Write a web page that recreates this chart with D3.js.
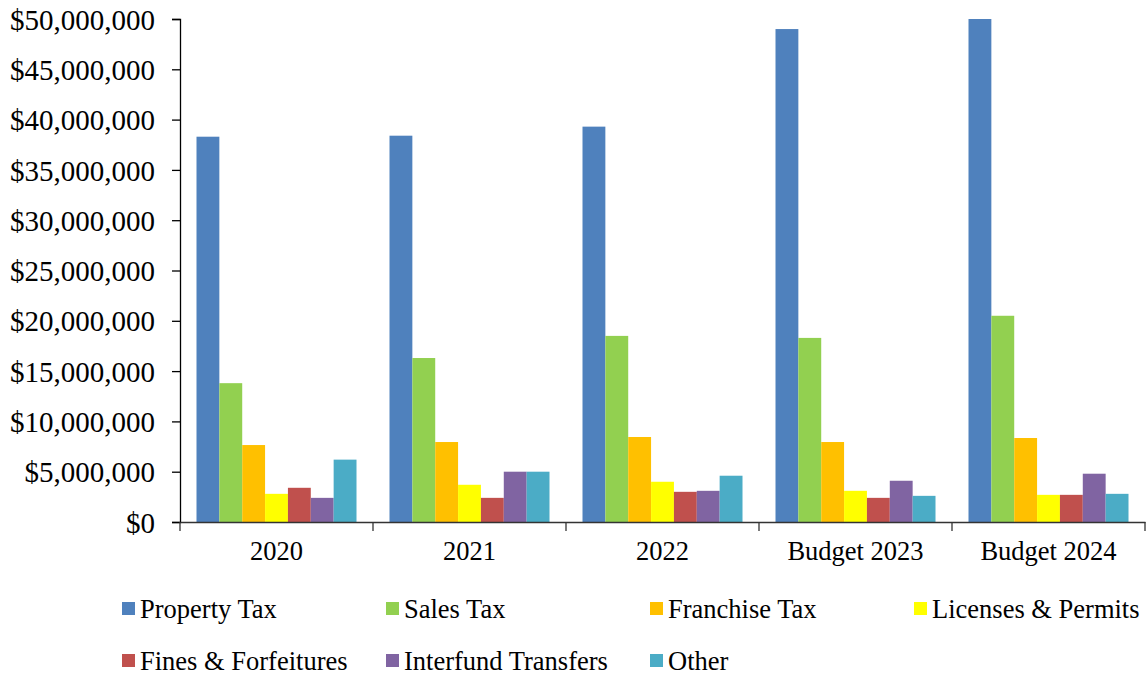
<!DOCTYPE html>
<html>
<head>
<meta charset="utf-8">
<script src="https://cdn.jsdelivr.net/npm/d3@7"></script>
<style>
  body { margin: 0; background: #fff; }
  text { font-family: "Liberation Serif", "Times New Roman", serif; fill: #000; }
</style>
</head>
<body>
<svg id="chart" width="1146" height="675"></svg>
<script>
// categories and series
var years = ["2020", "2021", "2022", "Budget 2023", "Budget 2024"];
var seriesNames = ["Property Tax", "Sales Tax", "Franchise Tax", "Licenses & Permits",
                   "Fines & Forfeitures", "Interfund Transfers", "Other"];
var propertyTax   = [38300000, 38400000, 39300000, 49000000, 50000000];
var salesTax      = [13800000, 16300000, 18500000, 18300000, 20500000];
var franchiseTax  = [7650000, 7950000, 8450000, 7950000, 8350000];
var licenses      = [2800000, 3700000, 4000000, 3100000, 2700000];
var fines         = [3400000, 2400000, 3000000, 2400000, 2700000];
var interfund     = [2400000, 5000000, 3100000, 4100000, 4800000];
var other         = [6200000, 5000000, 4600000, 2600000, 2800000];
var yTicks = [0, 5000000, 10000000, 15000000, 20000000, 25000000,
              30000000, 35000000, 40000000, 45000000, 50000000];
var colors = ["#4F81BD", "#92D050", "#FFC000", "#FFFF00", "#C0504D", "#8064A2", "#4BACC6"];

var allSeries = [propertyTax, salesTax, franchiseTax, licenses, fines, interfund, other];

var svg = d3.select("#chart");
var plotLeft = 180, plotRight = 1145, plotTop = 19, plotBottom = 522;

var y = d3.scaleLinear().domain([0, 50000000]).range([plotBottom, plotTop]);
var x0 = d3.scaleBand().domain(years).range([plotLeft, plotRight]).padding(0);
var gap = 16.5;
var x1 = d3.scaleBand().domain(d3.range(seriesNames.length))
  .range([gap, x0.bandwidth() - gap]).padding(0);

// bars
var groups = svg.append("g").selectAll("g")
  .data(years)
  .enter().append("g")
  .attr("transform", function(d) { return "translate(" + x0(d) + ",0)"; });

groups.selectAll("rect")
  .data(function(d, i) {
    return allSeries.map(function(s, k) { return { k: k, v: s[i] }; });
  })
  .enter().append("rect")
  .attr("x", function(d) { return x1(d.k); })
  .attr("width", x1.bandwidth())
  .attr("y", function(d) { return y(d.v); })
  .attr("height", function(d) { return plotBottom - y(d.v); })
  .attr("fill", function(d) { return colors[d.k]; });

// y axis
var yAxis = d3.axisLeft(y)
  .tickValues(yTicks)
  .tickSize(8)
  .tickPadding(17)
  .tickFormat(function(d) { return "$" + d3.format(",")(d); });

var gy = svg.append("g")
  .attr("transform", "translate(" + plotLeft + ",0)")
  .call(yAxis);
gy.select(".domain").attr("stroke", "#000").attr("stroke-width", 1.3);
gy.selectAll(".tick line").attr("stroke", "#000").attr("stroke-width", 1.3);
gy.selectAll(".tick text").style("font-size", "29px").attr("dy", "0.35em")
  .style("font-family", "'Liberation Serif', 'Times New Roman', serif");

// x axis
var xAxis = d3.axisBottom(x0).tickSize(0).tickPadding(19);
var gx = svg.append("g")
  .attr("transform", "translate(0," + plotBottom + ")")
  .call(xAxis);
gx.select(".domain").attr("stroke", "#333").attr("stroke-width", 1.3);
gx.selectAll(".tick text").style("font-size", "26.5px")
  .style("font-family", "'Liberation Serif', 'Times New Roman', serif");

// category separators
var seps = years.map(function(d) { return x0(d); }).concat([plotRight]);
gx.selectAll(".sep")
  .data(seps)
  .enter().append("line")
  .attr("class", "sep")
  .attr("x1", function(d) { return d; })
  .attr("x2", function(d) { return d; })
  .attr("y1", 0)
  .attr("y2", 9)
  .attr("stroke", "#333")
  .attr("stroke-width", 1.3);

// legend
var legend = svg.append("g");
var item = legend.selectAll("g")
  .data(seriesNames)
  .enter().append("g")
  .attr("transform", function(d, i) {
    var col = i % 4, row = Math.floor(i / 4);
    return "translate(" + (122 + col * 264) + "," + (609 + row * 52) + ")";
  });
item.append("rect")
  .attr("x", 0).attr("y", -7)
  .attr("width", 13).attr("height", 13)
  .attr("fill", function(d, i) { return colors[i]; });
item.append("text")
  .attr("x", 18)
  .attr("dy", "0.35em")
  .style("font-size", "26.5px")
  .text(function(d) { return d; });
</script>
</body>
</html>
